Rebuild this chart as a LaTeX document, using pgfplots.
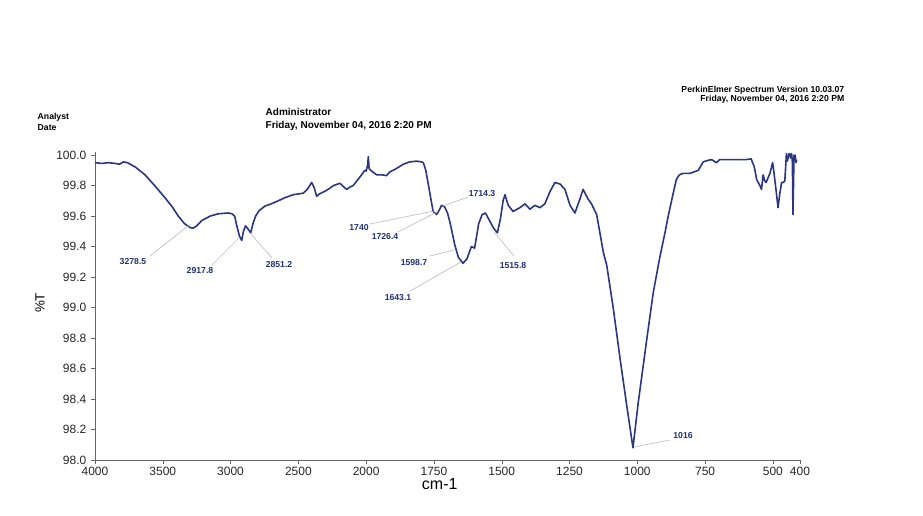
\documentclass[border=0pt]{standalone}
\usepackage{fontspec}
\setmainfont{Liberation Sans}
\usepackage{pgfplots}
\pgfplotsset{compat=1.18}
\definecolor{spec}{RGB}{42,54,128}
\definecolor{pk}{RGB}{30,50,120}

% FTIR spectrum: wavenumber (cm-1) vs %T
\pgfplotstableread{
w v
4000 99.95
3950 99.945
3900 99.95
3850 99.945
3820 99.94
3790 99.955
3760 99.95
3700 99.92
3631 99.87
3560 99.80
3484 99.72
3430 99.66
3386 99.60
3340 99.55
3300 99.525
3278.5 99.52
3250 99.535
3213 99.57
3150 99.60
3090 99.615
3017 99.62
2990 99.615
2970 99.60
2955 99.54
2935 99.47
2918 99.44
2905 99.50
2890 99.535
2875 99.52
2851 99.49
2835 99.55
2815 99.60
2790 99.635
2747 99.665
2700 99.68
2648 99.70
2600 99.72
2538 99.74
2500 99.745
2464 99.75
2430 99.78
2402 99.82
2385 99.79
2365 99.73
2345 99.745
2310 99.76
2280 99.775
2240 99.80
2194 99.815
2170 99.795
2144 99.775
2120 99.79
2096 99.80
2060 99.84
2034 99.87
2010 99.90
2000 99.895
1995 99.93
1992 99.99
1989 99.91
1980 99.895
1961 99.87
1940 99.87
1925 99.865
1912 99.89
1890 99.91
1863 99.94
1840 99.955
1814 99.96
1795 99.955
1789 99.95
1780 99.90
1772 99.82
1765 99.75
1753 99.63
1740 99.61
1730 99.64
1722 99.67
1714 99.665
1709 99.655
1700 99.62
1691 99.56
1673 99.41
1660 99.33
1643 99.29
1628 99.32
1612 99.40
1600 99.39
1585 99.55
1572 99.61
1560 99.62
1545 99.57
1530 99.52
1516 99.49
1505 99.58
1495 99.70
1488 99.74
1476 99.67
1458 99.63
1433 99.655
1414 99.68
1396 99.645
1378 99.67
1359 99.655
1341 99.68
1322 99.76
1304 99.82
1285 99.81
1267 99.775
1248 99.67
1230 99.62
1212 99.71
1200 99.775
1190 99.74
1181 99.71
1169 99.68
1150 99.61
1138 99.49
1125 99.36
1113 99.28
1089 99.00
1064 98.67
1040 98.37
1016 98.08
997 98.37
966 98.78
941 99.10
917 99.33
898 99.49
886 99.60
870 99.73
856 99.84
845 99.87
831 99.88
806 99.88
790 99.89
775 99.90
757 99.955
740 99.965
726 99.97
708 99.95
696 99.97
650 99.97
600 99.97
580 99.975
575 99.95
570 99.93
566 99.90
560 99.84
554 99.82
548 99.80
542 99.775
536 99.87
530 99.83
525 99.82
518 99.85
511 99.88
505 99.92
501 99.95
497 99.90
493 99.84
487 99.75
481 99.655
475 99.74
468 99.82
462 99.82
456 99.83
452 99.95
450 100.01
447 99.96
444 99.98
440 100.01
437 100.0
434 99.98
431 100.01
428 99.95
426 99.61
424 99.80
422 100.0
420 99.98
418 100.0
415 99.95
412 99.97
}\spectrum

\begin{document}
\begin{tikzpicture}
\begin{scope}[x=0.75pt,y=-0.75pt]
\path[use as bounding box] (0,0) rectangle (923,515);
\end{scope}

\begin{axis}[
  at={(71.25pt,-345pt)}, anchor=south west,
  scale only axis, width=528.75pt, height=231pt,
  x dir=reverse, xmin=400, xmax=3000, ymin=98, ymax=100.02,
  axis lines=left, axis line style={-, black!60, line width=0.6pt},
  % scale halves above 2000 cm-1
  x filter/.expression={x>2000 ? 2000+(x-2000)/2 : x},
  xtick={3000,2750,2500,2250,2000,1750,1500,1250,1000,750,500,400},
  xticklabels={4000,3500,3000,2500,2000,1750,1500,1250,1000,750,500,400},
  ytick={98,98.2,98.4,98.6,98.8,99,99.2,99.4,99.6,99.8,100},
  yticklabel style={/pgf/number format/.cd, fixed, fixed zerofill, precision=1},
  /pgf/number format/assume math mode=true,
  tick label style={font=\fontsize{9}{10}\selectfont, text=black!85},
  tick align=outside, major tick length=3pt, tick style={black!60},
  xticklabel style={yshift=1.5pt},
  clip=false,
  every axis y label/.style={at={(axis description cs:-0.078,0.51)}, rotate=90, anchor=center},
  ylabel={\fontsize{10}{12}\selectfont\%T},
  every axis x label/.style={at={(axis description cs:0.489,-0.078)}, anchor=center},
  xlabel={\fontsize{12}{14}\selectfont cm-1},
]
\addplot[spec, line width=1.2pt, line join=round] table[x=w, y=v] {\spectrum};
\end{axis}

\begin{scope}[x=0.75pt,y=-0.75pt]
  % header
  \node[anchor=west, font=\fontsize{6.5}{7}\selectfont\bfseries] at (33,117) {Analyst};
  \node[anchor=west, font=\fontsize{6.5}{7}\selectfont\bfseries] at (33,128) {Date};
  \node[anchor=west, font=\fontsize{7.5}{8}\selectfont\bfseries] at (261,112) {Administrator};
  \node[anchor=west, font=\fontsize{7.5}{8}\selectfont\bfseries] at (261,126) {Friday, November 04, 2016 2:20 PM};
  \node[anchor=east, font=\fontsize{6.5}{7}\selectfont\bfseries] at (849,90) {PerkinElmer Spectrum Version 10.03.07};
  \node[anchor=east, font=\fontsize{6.5}{7}\selectfont\bfseries] at (849,99) {Friday, November 04, 2016 2:20 PM};
  % peak leaders
  \begin{scope}[black!25, line width=0.5pt]
    \draw (150,256) -- (188,226);
    \draw (212,265) -- (239,238);
    \draw (272,258) -- (250,233);
    \draw (370,224) -- (434,211);
    \draw (398,232) -- (437,212);
    \draw (468,197) -- (443,206);
    \draw (430,256) -- (454,250);
    \draw (410,291) -- (461,262);
    \draw (514,256) -- (494,232);
    \draw (634,447) -- (670,440);
  \end{scope}
  % peak labels
  \begin{scope}[every node/.style={font=\fontsize{6.5}{7}\selectfont\bfseries, text=pk, inner sep=0pt}]
    \node at (133,262) {3278.5};
    \node at (200,271) {2917.8};
    \node at (279,265) {2851.2};
    \node at (359,228) {1740};
    \node at (385,237) {1726.4};
    \node at (482,194) {1714.3};
    \node at (414,263) {1598.7};
    \node at (398,298) {1643.1};
    \node at (513,266) {1515.8};
    \node at (683,436) {1016};
  \end{scope}
\end{scope}
\end{tikzpicture}
\end{document}
